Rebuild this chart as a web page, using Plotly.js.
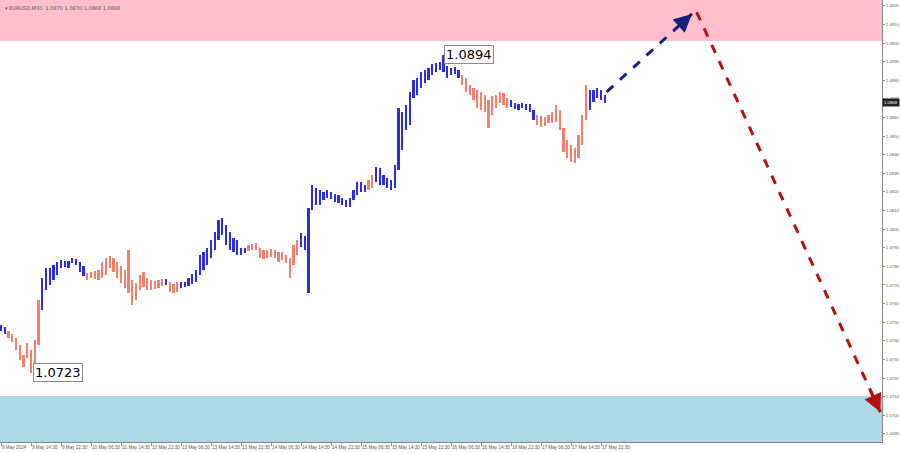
<!DOCTYPE html>
<html>
<head>
<meta charset="utf-8">
<script src="https://cdn.plot.ly/plotly-3.0.1.min.js"></script>
<style>html,body{margin:0;padding:0;background:#fff}#chart{width:900px;height:453px}</style>
</head>
<body>
<div id="chart"></div>
<script>
// --- Data (EURUSD M30, sampled every 2 bars) ---
const tickBars = [0,16,32,48,64,80,96,112,128,144,160,176,192,208,224,240,256,272,288,304,320];
const tickLabels = ["9 May 2024","9 May 14:30","9 May 22:30","10 May 06:30","10 May 14:30","10 May 22:30",
  "13 May 06:30","13 May 14:30","13 May 22:30","14 May 06:30","14 May 14:30","14 May 22:30",
  "15 May 06:30","15 May 14:30","15 May 22:30","16 May 06:30","16 May 14:30","16 May 22:30",
  "17 May 06:30","17 May 14:30","17 May 22:30"];

const high = [
 1.07485,1.07474,1.07453,1.07436,1.07415,1.07377,1.07324,1.07388,1.07350,1.07404,1.07619,
 1.07738,1.07791,1.07791,1.07807,1.07824,1.07834,1.07829,1.07829,1.07845,1.07840,1.07824,1.07802,
 1.07764,1.07770,1.07775,1.07781,1.07824,1.07845,1.07856,1.07845,1.07824,1.07802,1.07781,1.07888,1.07727,1.07711,1.07754,1.07770,1.07738,1.07727,1.07721,1.07727,1.07732,
 1.07732,1.07716,1.07705,1.07716,
 1.07716,1.07716,1.07738,1.07759,1.07781,1.07861,1.07877,1.07899,1.07942,1.07985,1.08049,1.08060,1.08022,1.07985,1.07953,1.07942,1.07899,1.07899,
 1.07915,1.07920,1.07926,1.07899,1.07888,1.07888,1.07893,1.07888,1.07877,1.07877,1.07861,1.07845,1.07915,1.07942,
 1.07979,1.07963,1.08114,1.08237,1.08221,1.08211,1.08200,1.08211,1.08200,1.08189,1.08184,1.08168,1.08157,1.08168,1.08211,1.08254,1.08254,1.08237,
 1.08264,1.08291,
 1.08334,1.08329,1.08291,1.08275,1.08264,1.08345,1.08651,1.08630,1.08668,1.08737,1.08802,1.08813,1.08845,1.08856,1.08866,1.08888,1.08893,1.08899,1.08936,1.08877,1.08866,1.08872,1.08856,
 1.08829,1.08813,1.08775,1.08759,1.08748,1.08737,1.08721,1.08694,1.08716,1.08721,1.08737,1.08732,1.08705,
 1.08694,1.08678,1.08673,1.08678,1.08673,1.08673,1.08641,
 1.08614,1.08608,1.08603,1.08614,1.08630,1.08668,1.08641,1.08544,1.08479,1.08453,1.08436,1.08506,1.08614,1.08775,
 1.08748,1.08748,1.08759,1.08748,1.08721
];
const low = [
 1.07453,1.07436,1.07415,1.07393,1.07350,1.07297,1.07259,1.07307,1.07227,1.07270,1.07377,
 1.07565,1.07673,1.07700,1.07727,1.07754,1.07791,1.07797,1.07791,1.07818,1.07807,1.07770,1.07748,
 1.07727,1.07738,1.07732,1.07727,1.07738,1.07754,1.07791,1.07770,1.07738,1.07711,1.07684,1.07657,1.07592,1.07619,1.07673,1.07689,1.07673,1.07673,1.07678,1.07684,1.07695,
 1.07700,1.07662,1.07657,1.07662,
 1.07684,1.07689,1.07695,1.07705,1.07716,1.07754,1.07781,1.07807,1.07845,1.07888,1.07942,1.07969,1.07915,1.07888,1.07877,1.07861,1.07861,1.07872,
 1.07883,1.07888,1.07888,1.07845,1.07840,1.07845,1.07850,1.07845,1.07824,1.07834,1.07818,1.07738,1.07807,1.07861,
 1.07904,1.07888,1.07657,1.08103,1.08130,1.08130,1.08157,1.08168,1.08162,1.08146,1.08141,1.08130,1.08119,1.08119,1.08157,1.08184,1.08200,1.08200,
 1.08211,1.08221,
 1.08254,1.08237,1.08237,1.08221,1.08211,1.08221,1.08318,1.08426,1.08533,1.08560,1.08705,1.08721,1.08759,1.08786,1.08802,1.08829,1.08845,1.08856,1.08845,1.08813,1.08829,1.08834,1.08813,
 1.08775,1.08737,1.08721,1.08694,1.08651,1.08641,1.08630,1.08544,1.08614,1.08651,1.08678,1.08668,1.08651,
 1.08657,1.08646,1.08641,1.08651,1.08641,1.08630,1.08587,
 1.08560,1.08549,1.08555,1.08571,1.08571,1.08576,1.08533,1.08415,1.08383,1.08361,1.08356,1.08383,1.08453,1.08587,
 1.08641,1.08684,1.08705,1.08694,1.08678
];
// wave segments: U = impulse (blue), C = correction (salmon); [type, number of samples]
const waveSegments = [["U",2],["C",9],["U",12],["C",21],["U",1],["C",3],["U",18],["C",14],["U",18],["C",2],["U",23],["C",13],["U",7],["C",14],["U",5]];

const zoneSell = [1.09012, 1.09232];
const zoneBuy = [1.06856, 1.07103];
const upArrow = {bars:[323, 368.5], prices:[1.08738, 1.09157]};
const downArrow = {bars:[371, 469], prices:[1.09167, 1.07017]};
const lowLabel = {bar:16, price:1.0723, text:"1.0723"};
const highLabel = {bar:236, price:1.0894, text:"1.0894"};
const headerText = "▾ EURUSD,M30  1.0870 1.0870 1.0868 1.0868";
const lastPrice = 1.0868;

// --- Build ---
const colorMap = {U:"#2c2ce6", C:"#f47f6c"};
const colors = [];
waveSegments.forEach(([t,n]) => { for (let k=0;k<n;k++) colors.push(colorMap[t]); });
const bars = high.map((_, i) => i*2);

const trace = {
  type:"bar", x:bars, base:low, y:high.map((h,i)=>h-low[i]),
  width:1.1, marker:{color:colors, line:{width:0}}, hoverinfo:"skip", showlegend:false
};

const yTicks = []; for (let v=1069; v<=1092; v++) yTicks.push(v/1000);

const shapes = [
  {type:"rect", xref:"paper", yref:"y", x0:0, x1:1, y0:zoneSell[0], y1:zoneSell[1], fillcolor:"#ffc0cb", line:{width:0}, layer:"below"},
  {type:"rect", xref:"paper", yref:"y", x0:0, x1:1, y0:zoneBuy[0], y1:zoneBuy[1], fillcolor:"#add8e6", line:{width:0}, layer:"below"},
  {type:"line", xref:"x", yref:"y", x0:upArrow.bars[0], y0:upArrow.prices[0], x1:upArrow.bars[1], y1:upArrow.prices[1], line:{color:"#14207a", width:3, dash:"dash"}},
  {type:"line", xref:"x", yref:"y", x0:downArrow.bars[0], y0:downArrow.prices[0], x1:downArrow.bars[1], y1:downArrow.prices[1], line:{color:"#b80f0f", width:3, dash:"dash"}}
];

function head(a, color){
  const n=a.bars.length-1;
  const fx=a.bars[n], fy=a.prices[n];
  const t=0.06;
  return {x:fx, y:fy, xref:"x", yref:"y", axref:"x", ayref:"y",
    ax: fx - (fx-a.bars[0])*t, ay: fy - (fy-a.prices[0])*t,
    showarrow:true, arrowhead:2, arrowsize:1.2, arrowwidth:3, arrowcolor:color, text:""};
}

const annFont = {family:"DejaVu Sans, sans-serif", size:13, color:"#000"};
const smallFont = {family:"Liberation Sans, Arial, sans-serif", size:4.3, color:"#5a5a5a"};
const annotations = [
  head(upArrow, "#14207a"),
  head(downArrow, "#b80f0f"),
  {x:lowLabel.bar, y:lowLabel.price, xref:"x", yref:"y", text:lowLabel.text, showarrow:false,
   xanchor:"left", yanchor:"middle", xshift:2, font:annFont, bgcolor:"#fff", bordercolor:"#8a8a8a", borderwidth:1, borderpad:1},
  {x:highLabel.bar, y:highLabel.price, xref:"x", yref:"y", text:highLabel.text, showarrow:false,
   xanchor:"left", yanchor:"middle", xshift:0, font:annFont, bgcolor:"#fff", bordercolor:"#8a8a8a", borderwidth:1, borderpad:1},
  {x:0, y:1, xref:"paper", yref:"paper", text:headerText, showarrow:false, xanchor:"left", yanchor:"top",
   xshift:3, yshift:-3, font:{family:"DejaVu Sans, sans-serif", size:5, color:"#555"}},
  {x:1, y:lastPrice, xref:"paper", yref:"y", text:lastPrice.toFixed(4), showarrow:false, xanchor:"left", yanchor:"middle",
   xshift:0, font:{family:"Liberation Sans, Arial, sans-serif", size:4.3, color:"#fff"}, bgcolor:"#222", borderpad:1}
];

const layout = {
  width:900, height:453,
  margin:{l:0, r:18, t:0, b:11, pad:0},
  paper_bgcolor:"#fff", plot_bgcolor:"#fff",
  bargap:0, showlegend:false,
  xaxis:{range:[-0.533, 469.867], showgrid:false, zeroline:false,
    tickmode:"array", tickvals:tickBars, ticktext:tickLabels, tickangle:0, automargin:false,
    ticks:"outside", ticklen:3, tickcolor:"#888", ticklabelposition:"outside right",
    tickfont:{family:"Liberation Sans, Arial, sans-serif", size:4.6, color:"#5a5a5a"},
    showline:true, linecolor:"#888", linewidth:1, mirror:true, fixedrange:true},
  yaxis:{side:"right", range:[1.06856, 1.09232], showgrid:false, zeroline:false, automargin:false,
    tickmode:"array", tickvals:yTicks, ticktext:yTicks.map(v=>v.toFixed(4)),
    ticks:"outside", ticklen:2, tickcolor:"#888",
    tickfont:smallFont,
    showline:true, linecolor:"#888", linewidth:1, mirror:true, fixedrange:true},
  shapes:shapes, annotations:annotations
};

Plotly.newPlot("chart", [trace], layout, {displayModeBar:false, staticPlot:true});
</script>
</body>
</html>
